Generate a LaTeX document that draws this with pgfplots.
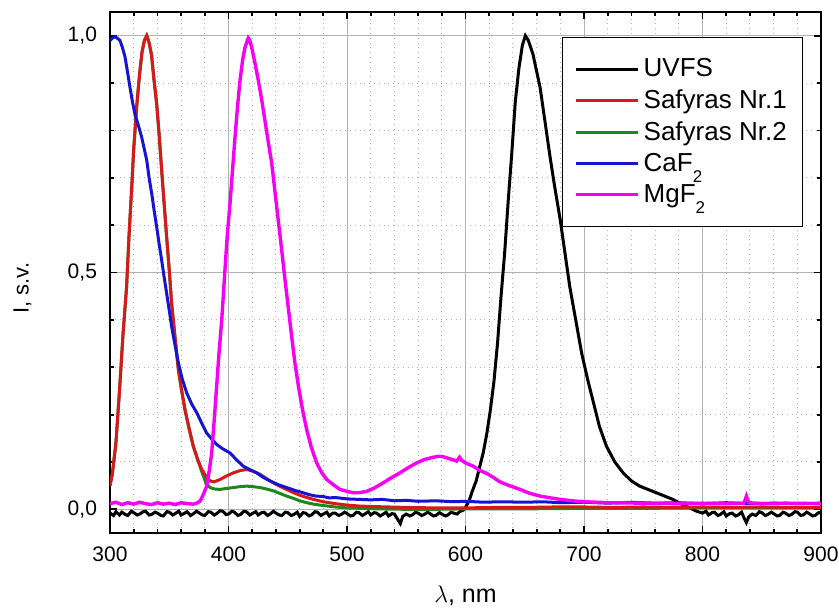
\documentclass[border=0pt]{standalone}
\usepackage{pgfplots}
\pgfplotsset{compat=1.18}
\usepackage{fontspec}
\setmainfont{Liberation Sans}
\definecolor{cred}{RGB}{215,25,25}
\definecolor{cgreen}{RGB}{30,135,30}
\definecolor{cblue}{RGB}{20,20,210}
\definecolor{cmag}{RGB}{245,0,245}
\begin{document}
\begin{tikzpicture}
\begin{axis}[
 scale only axis, width=355.5pt, height=260.5pt,
 xmin=300, xmax=900, ymin=-0.05, ymax=1.05,
 xtick={300,400,...,900}, ytick={0,0.5,1}, yticklabels={{0,0},{0,5},{1,0}},
 minor x tick num=4, minor y tick num=4,
 grid=both,
 major grid style={gray!60, line width=0.5pt},
 minor grid style={gray!60, dotted, line width=0.5pt},
 axis line style={line width=1pt},
 tick style={black, line width=0.9pt},
 major tick length=3.5pt, minor tick length=2pt,
 tick align=inside,
 /pgf/number format/assume math mode=true,
 ticklabel style={font=\fontsize{10.5}{12}\selectfont},
 xticklabel style={yshift=-3.5pt},
 yticklabel style={xshift=-3pt},
 xlabel={$\lambda$, nm}, ylabel={I, s.v.},
 xlabel style={at={(axis description cs:0.5,-0.121)}, anchor=center, font=\fontsize{12.5}{15}\selectfont},
 ylabel style={at={(axis description cs:-0.123,0.47)}, anchor=center, font=\fontsize{11}{13}\selectfont},
 legend style={at={(0.975,0.952)}, anchor=north east, draw=black, line width=0.5pt, fill=white,
   font=\fontsize{13}{15}\selectfont, inner xsep=6pt, inner ysep=8.5pt, row sep=1pt},
 legend cell align=left,
 legend image code/.code={\draw[#1] (0pt,0pt) -- (31pt,0pt);},
]
% UVFS
\addplot[black, line width=1.5pt, forget plot] coordinates {
(300,-0.008)(303,-0.013)(305,-0.005)(308,-0.012)(310,-0.006)(313,-0.011)(315,-0.013)(318,-0.004)(320,-0.007)(323,-0.012)(325,-0.010)(328,-0.005)(330,-0.004)(333,-0.012)(335,-0.011)(338,-0.006)(340,-0.008)(343,-0.013)(345,-0.014)(348,-0.005)(350,-0.006)(353,-0.012)(355,-0.009)(358,-0.004)(360,-0.012)(363,-0.008)(365,-0.005)(368,-0.013)(370,-0.010)(373,-0.004)(375,-0.007)(378,-0.012)(380,-0.013)(383,-0.005)(385,-0.006)(388,-0.012)(390,-0.009)(393,-0.003)(395,-0.004)(398,-0.011)(400,-0.010)(403,-0.004)(405,-0.006)(408,-0.013)(410,-0.011)(413,-0.004)(415,-0.005)(418,-0.012)(420,-0.009)(423,-0.005)(425,-0.012)(428,-0.007)(430,-0.006)(433,-0.013)(435,-0.010)(438,-0.004)(440,-0.008)(443,-0.012)(445,-0.013)(448,-0.006)(450,-0.007)(453,-0.013)(455,-0.011)(458,-0.006)(460,-0.015)(463,-0.007)(465,-0.008)(468,-0.014)(470,-0.012)(473,-0.005)(475,-0.006)(478,-0.013)(480,-0.010)(483,-0.006)(485,-0.014)(488,-0.008)(490,-0.008)(493,-0.013)(495,-0.011)(498,-0.006)(500,-0.009)(503,-0.014)(505,-0.013)(508,-0.006)(510,-0.007)(513,-0.013)(515,-0.010)(518,-0.005)(520,-0.012)(523,-0.007)(525,-0.008)(528,-0.014)(530,-0.011)(533,-0.006)(535,-0.014)(538,-0.009)(540,-0.010)(543,-0.022)(545,-0.030)(547,-0.015)(550,-0.010)(553,-0.014)(555,-0.012)(558,-0.006)(560,-0.008)(563,-0.013)(565,-0.011)(568,-0.006)(570,-0.009)(573,-0.014)(575,-0.013)(578,-0.007)(580,-0.010)(583,-0.014)(585,-0.012)(588,-0.006)(590,-0.008)(593,-0.010)(595,-0.005)(598,-0.002)(600,0.004)(603,0.018)(606,0.04)(609,0.06)(612,0.09)(615,0.12)(618,0.16)(621,0.21)(624,0.27)(627,0.35)(630,0.45)(633,0.54)(636,0.65)(639,0.75)(642,0.86)(645,0.93)(648,0.98)(650.5,1.0)(653,0.99)(657,0.96)(660,0.925)(663,0.89)(667,0.82)(671,0.75)(675,0.685)(680,0.61)(684,0.54)(688,0.47)(693,0.40)(698,0.33)(703,0.275)(708,0.225)(713,0.175)(719,0.133)(726,0.10)(733,0.077)(740,0.06)(747,0.049)(754,0.042)(761,0.035)(768,0.028)(775,0.021)(780,0.014)(785,0.008)(790,0.002)(795,-0.004)(800,-0.008)(803,-0.004)(805,-0.012)(808,-0.007)(810,-0.006)(813,-0.013)(815,-0.011)(818,-0.005)(820,-0.014)(823,-0.009)(825,-0.008)(828,-0.014)(830,-0.012)(833,-0.006)(835,-0.018)(837,-0.028)(839,-0.016)(842,-0.010)(845,-0.013)(848,-0.005)(850,-0.007)(853,-0.013)(855,-0.011)(858,-0.006)(860,-0.009)(863,-0.014)(865,-0.013)(868,-0.006)(870,-0.008)(873,-0.013)(875,-0.011)(878,-0.005)(880,-0.006)(883,-0.013)(885,-0.012)(888,-0.006)(890,-0.009)(893,-0.014)(895,-0.013)(898,-0.007)(900,-0.008)
};
% Safyras Nr.2
\addplot[cgreen, line width=1.5pt, forget plot] coordinates {
(300,0.05)(302,0.075)(305,0.14)(308,0.25)(311,0.37)(314,0.47)(316,0.575)(318,0.665)(320,0.76)(322.5,0.85)(325,0.92)(327,0.965)(329,0.99)(331,1.0)(333,0.985)(335,0.96)(337,0.91)(339.4,0.856)(341.5,0.79)(343.6,0.716)(345.7,0.645)(347.8,0.575)(350,0.505)(352,0.435)(355,0.36)(357.7,0.295)(360.5,0.25)(363.3,0.21)(366.8,0.17)(370.3,0.133)(374,0.105)(377.4,0.08)(381,0.055)(384.4,0.046)(388,0.043)(392.8,0.042)(398,0.044)(404,0.046)(410,0.048)(415.4,0.049)(420,0.048)(426.6,0.046)(432,0.043)(437.8,0.039)(443,0.034)(449,0.028)(455,0.023)(460,0.018)(466,0.014)(471.6,0.011)(480,0.008)(490,0.005)(500,0.003)(525,0.001)(550,0.0)(575,0.0)(600,0.001)(650,0.001)(700,0.002)(750,0.002)(800,0.003)(850,0.003)(900,0.003)
};
% Safyras Nr.1
\addplot[cred, line width=1.5pt, forget plot] coordinates {
(300,0.05)(302,0.075)(305,0.14)(308,0.25)(311,0.37)(314,0.47)(316,0.575)(318,0.665)(320,0.76)(322.5,0.85)(325,0.92)(327,0.965)(329,0.99)(331,1.0)(333,0.985)(335,0.96)(337,0.91)(339.4,0.856)(341.5,0.79)(343.6,0.716)(345.7,0.645)(347.8,0.575)(350,0.505)(352,0.435)(355,0.36)(357.7,0.295)(360.5,0.25)(363.3,0.21)(366.8,0.17)(370.3,0.133)(374,0.105)(377.4,0.084)(381,0.07)(384.4,0.06)(388,0.058)(392.8,0.063)(398,0.07)(404,0.077)(410,0.082)(415.4,0.084)(420,0.081)(426.6,0.074)(432,0.065)(437.8,0.056)(443,0.049)(449,0.042)(455,0.035)(460,0.03)(466,0.025)(471.6,0.021)(480,0.016)(490,0.012)(500,0.009)(510,0.007)(520,0.006)(535,0.005)(550,0.004)(575,0.003)(600,0.003)(625,0.004)(650,0.004)(675,0.005)(700,0.005)(725,0.004)(750,0.005)(775,0.004)(800,0.005)(825,0.004)(850,0.005)(875,0.004)(900,0.004)
};
% CaF2
\addplot[cblue, line width=1.5pt, forget plot] coordinates {
(300,0.99)(302,0.995)(304,0.998)(306,0.995)(308.4,0.99)(310.5,0.975)(312.7,0.955)(315,0.92)(316.9,0.89)(319,0.86)(321,0.835)(324,0.81)(326.7,0.786)(329,0.76)(331,0.737)(333,0.70)(335.2,0.667)(337.3,0.63)(339.4,0.596)(341.5,0.56)(343.6,0.526)(345.7,0.49)(347.8,0.456)(350,0.42)(352,0.386)(355,0.345)(357.7,0.309)(361,0.275)(364.7,0.246)(369,0.222)(373.2,0.204)(377.4,0.182)(381.6,0.161)(386,0.148)(390,0.137)(395,0.128)(401.3,0.119)(407,0.104)(412.5,0.091)(418,0.084)(423.8,0.077)(429,0.068)(435,0.06)(442,0.052)(449,0.046)(456,0.04)(463,0.035)(468,0.031)(474,0.028)(480,0.027)(485,0.024)(490,0.025)(500,0.022)(510,0.021)(520,0.020)(530,0.021)(540,0.018)(550,0.019)(560,0.017)(575,0.018)(590,0.016)(600,0.017)(615,0.015)(630,0.016)(650,0.015)(665,0.016)(680,0.014)(700,0.015)(720,0.013)(740,0.015)(760,0.013)(780,0.014)(800,0.012)(820,0.014)(840,0.012)(860,0.013)(880,0.012)(900,0.013)
};
% MgF2
\addplot[cmag, line width=1.7pt, forget plot] coordinates {
(300,0.012)(305,0.015)(310,0.010)(315,0.014)(320,0.011)(325,0.015)(330,0.012)(335,0.010)(340,0.014)(345,0.011)(350,0.013)(355,0.010)(360,0.014)(365,0.012)(370,0.011)(373,0.013)(376,0.017)(378.5,0.03)(381.6,0.049)(384,0.085)(385.8,0.119)(388,0.19)(390,0.26)(392,0.33)(394.3,0.40)(397,0.505)(399,0.58)(401.3,0.646)(403.5,0.72)(405.5,0.786)(407.6,0.85)(409.7,0.905)(412,0.95)(413.9,0.975)(416.7,0.995)(418,0.99)(419.6,0.975)(422.5,0.94)(425.2,0.905)(428,0.865)(430.8,0.82)(433.6,0.775)(436.5,0.73)(439,0.675)(442,0.61)(445,0.545)(447.7,0.484)(450.5,0.425)(453.3,0.365)(456,0.31)(459,0.26)(462.5,0.21)(466,0.168)(470,0.13)(474.4,0.098)(478.5,0.078)(482.9,0.063)(488.4,0.052)(494,0.042)(500,0.038)(505.3,0.035)(510,0.035)(516.6,0.038)(523,0.045)(530.6,0.056)(537,0.066)(544.7,0.077)(551,0.087)(558.8,0.098)(565,0.105)(572.8,0.11)(578,0.112)(581.3,0.111)(585,0.108)(590,0.104)(592.6,0.102)(595,0.11)(597,0.103)(600,0.098)(606.6,0.091)(612,0.082)(617.9,0.076)(623,0.068)(629,0.058)(637,0.05)(646,0.042)(654,0.034)(663,0.028)(672,0.024)(680,0.021)(690,0.018)(700,0.016)(720,0.014)(750,0.013)(780,0.012)(800,0.013)(820,0.012)(835,0.013)(837,0.028)(839,0.014)(850,0.012)(870,0.013)(900,0.012)
};
\addlegendimage{black, line width=1.5pt}\addlegendentry{UVFS}
\addlegendimage{cred, line width=1.5pt}\addlegendentry{Safyras Nr.1}
\addlegendimage{cgreen, line width=1.5pt}\addlegendentry{Safyras Nr.2}
\addlegendimage{cblue, line width=1.5pt}\addlegendentry{CaF\raisebox{-5.5pt}{\fontsize{8.5}{8.5}\selectfont 2}}
\addlegendimage{cmag, line width=1.5pt}\addlegendentry{MgF\raisebox{-5.5pt}{\fontsize{8.5}{8.5}\selectfont 2}}
\end{axis}
\pgfresetboundingbox
\path ([shift={(-55pt,-37pt)}]current axis.south west) rectangle ([shift={(9pt,6pt)}]current axis.north east);
\end{tikzpicture}
\end{document}
